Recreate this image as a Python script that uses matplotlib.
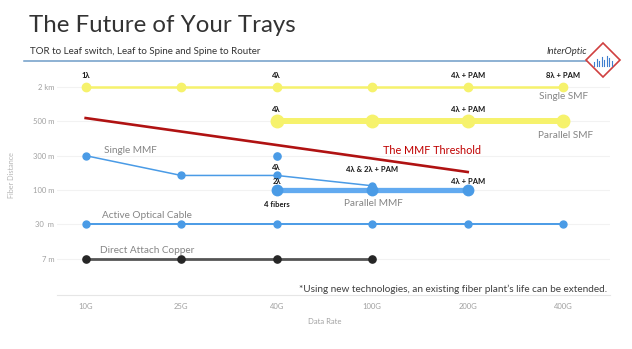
import matplotlib.pyplot as plt
import matplotlib.patches as mpatches
import numpy as np

plt.rcParams['font.family'] = ['Lato', 'DejaVu Sans']

# data rates along x, distance classes along y
rates = ['10G', '25G', '40G', '100G', '200G', '400G']
dist_labels = ['7 m', '30  m', '100 m', '300 m', '500 m', '2 km']
dist_m = [7, 30, 100, 300, 500, 2000]

single_smf_x = ['10G', '25G', '40G', '100G', '200G', '400G']
single_smf_d = [2000, 2000, 2000, 2000, 2000, 2000]

parallel_smf_x = ['40G', '100G', '200G', '400G']
parallel_smf_d = [500, 500, 500, 500]

threshold_x = ['10G', '200G']
threshold_d = [640, 205]

single_mmf_x = ['10G', '25G', '40G', '100G']
single_mmf_d = [300, 185, 185, 125]
single_mmf_extra_x = ['40G']
single_mmf_extra_d = [300]

parallel_mmf_x = ['40G', '100G', '200G']
parallel_mmf_d = [100, 100, 100]

aoc_x = ['10G', '25G', '40G', '100G', '200G', '400G']
aoc_d = [30, 30, 30, 30, 30, 30]

dac_x = ['10G', '25G', '40G', '100G']
dac_d = [7, 7, 7, 7]

# (rate, distance, text, y offset in points)
annotations = [
    ('10G', 2000, '1λ', 6), ('40G', 2000, '4λ', 6),
    ('200G', 2000, '4λ + PAM', 6), ('400G', 2000, '8λ + PAM', 6),
    ('40G', 500, '4λ', 6), ('200G', 500, '4λ + PAM', 6),
    ('40G', 185, '4λ', 3), ('100G', 125, '4λ & 2λ + PAM', 9),
    ('40G', 100, '2λ', 3.5), ('200G', 100, '4λ + PAM', 4),
]

YELLOW = '#f6f26c'
BLUE = '#4a9be6'
BLUE_THICK = '#62aaf0'
RED = '#b01212'
GRAY_TXT = '#858585'


def xpos(labels):
    return [rates.index(r) for r in labels]


def ypos(dists):
    return np.interp(dists, dist_m, np.arange(len(dist_m)))


fig = plt.figure(figsize=(6.32, 3.49), dpi=100)
ax = fig.add_axes([57 / 632, 1 - 295 / 349, 553 / 632, 225 / 349])

ax.set_xlim(-0.30, 5.49)
ax.set_ylim(-1.05, 5.49)

for i in range(len(dist_m)):
    ax.axhline(i, color='#f2f2f2', lw=0.8, zorder=0)

# yellow single-mode lines
ax.plot(xpos(single_smf_x), ypos(single_smf_d), color=YELLOW, lw=1.8,
        marker='o', ms=6, zorder=3)
ax.plot(xpos(parallel_smf_x), ypos(parallel_smf_d), color=YELLOW, lw=4.3,
        marker='o', ms=9, zorder=3)

# multimode threshold
ax.plot(xpos(threshold_x), ypos(threshold_d), color=RED, lw=1.9, zorder=4)

# multimode
ax.plot(xpos(parallel_mmf_x), ypos(parallel_mmf_d), color=BLUE_THICK, lw=3.8,
        marker='o', ms=7.5, mfc=BLUE, mec=BLUE, zorder=3)
ax.plot(xpos(single_mmf_x), ypos(single_mmf_d), color=BLUE, lw=1.1,
        marker='o', ms=5, zorder=4)
ax.plot(xpos(single_mmf_extra_x), ypos(single_mmf_extra_d), color=BLUE,
        ls='none', marker='o', ms=5.2, zorder=4)

ax.plot(xpos(aoc_x), ypos(aoc_d), color=BLUE, lw=1.4, marker='o', ms=5,
        zorder=3)
ax.plot(xpos(dac_x), ypos(dac_d), color='#555555', lw=2, marker='o', ms=5.2,
        mfc='#262626', mec='#262626', zorder=3)

for r, d, txt, off in annotations:
    ax.annotate(txt, (rates.index(r), ypos([d])[0]), xytext=(0, off),
                textcoords='offset points', ha='center', va='bottom',
                fontsize=5.5, fontweight='bold', color='#1a1a1a', zorder=6)
ax.annotate('4 fibers', (rates.index('40G'), ypos([100])[0]), xytext=(0, -8),
            textcoords='offset points', ha='center', va='top', fontsize=5.5,
            fontweight='bold', color='#1a1a1a')

# series names
name_kw = dict(color=GRAY_TXT, fontsize=7.2, va='center')
ax.text(5.0, 4.71, 'Single SMF', ha='center', **name_kw)
ax.text(5.02, 3.59, 'Parallel SMF', ha='center', **name_kw)
ax.text(0.19, 3.15, 'Single MMF', ha='left', **name_kw)
ax.text(2.71, 1.62, 'Parallel MMF', ha='left', **name_kw)
ax.text(0.17, 1.25, 'Active Optical Cable', ha='left', **name_kw)
ax.text(0.15, 0.23, 'Direct Attach Copper', ha='left', **name_kw)
ax.text(3.11, 3.15, 'The MMF Threshold', ha='left', va='center',
        color='#c00000', fontsize=7.8)

ax.text(5.46, -0.87, '*Using new technologies, an existing fiber plant\u2019s life can be extended.',
        ha='right', va='center', color='#404040', fontsize=7.2)

ax.set_xticks(range(len(rates)))
ax.set_xticklabels(rates)
ax.set_yticks(range(len(dist_labels)))
ax.set_yticklabels(dist_labels)
ax.tick_params(length=0, labelsize=5.5, labelcolor='#a0a0a0')
ax.tick_params(axis='x', pad=6)
ax.tick_params(axis='y', pad=2)
for side in ['top', 'right', 'left']:
    ax.spines[side].set_visible(False)
ax.spines['bottom'].set_color('#e6e6e6')
ax.spines['bottom'].set_linewidth(0.8)
ax.set_xlabel('Data Rate', fontsize=5.5, color='#a0a0a0', labelpad=3)
ax.xaxis.set_label_coords((325 - 57) / 553, (295 - 318) / 225)
ax.set_ylabel('Fiber Distance', fontsize=5.2, color='#b5b5b5')
ax.yaxis.set_label_coords((15 - 57) / 553, (295 - 175) / 225)

# header
fig.text(29 / 632, 1 - 25 / 349, 'The Future of Your Trays', fontsize=17.3,
         color='#333333', va='center', ha='left')
fig.text(30 / 632, 1 - 51 / 349, 'TOR to Leaf switch, Leaf to Spine and Spine to Router',
         fontsize=7, color='#333333', va='center', ha='left')
fig.text(587 / 632, 1 - 52 / 349, 'InterOptic', fontsize=6.8, style='italic',
         color='#333333', va='center', ha='right')
fig.add_artist(plt.Line2D([24 / 632, 592 / 632], [1 - 61 / 349] * 2,
                          color='#6f9cc8', lw=1.1, transform=fig.transFigure))

# logo diamond
cx, cy, r = 603, 60, 17
logo = mpatches.Polygon([(cx / 632, 1 - (cy - r) / 349), ((cx + r) / 632, 1 - cy / 349),
                         (cx / 632, 1 - (cy + r) / 349), ((cx - r) / 632, 1 - cy / 349)],
                        closed=True, fc='white', ec='#d04040', lw=1.2,
                        transform=fig.transFigure, zorder=5)
fig.add_artist(logo)
for k, h in enumerate([4, 7, 5, 9, 6, 10, 8, 5]):
    bx = cx - 9 + k * 2.5
    fig.add_artist(plt.Line2D([bx / 632] * 2, [1 - (cy + 6) / 349, 1 - (cy + 6 - h) / 349],
                              color='#3f7fcf', lw=0.8, transform=fig.transFigure,
                              zorder=6))

fig.savefig('out.png', dpi=100)
